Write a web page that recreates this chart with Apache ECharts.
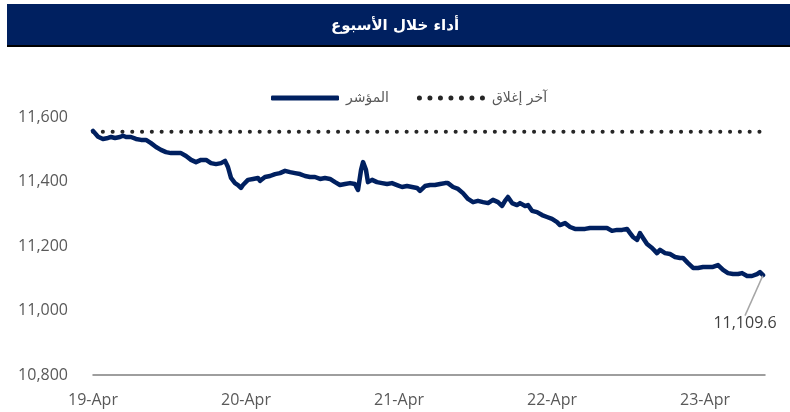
<!DOCTYPE html>
<html>
<head>
<meta charset="utf-8">
<script src="https://cdn.jsdelivr.net/npm/echarts@6/dist/echarts.min.js"></script>
<style>
html,body{margin:0;padding:0;background:#fff;}
#chart{width:790px;height:412px;}
</style>
</head>
<body>
<div id="chart"></div>
<script>
// ---- data ----
const titleText = 'أداء خلال الأسبوع';
const seriesNames = ['المؤشر', 'آخر إغلاق'];
const dayLabels = ['19-Apr', '20-Apr', '21-Apr', '22-Apr', '23-Apr'];
const yTicks = [10800, 11000, 11200, 11400, 11600];
// time in trading days since 19-Apr open
const times = [
  0, 0.033, 0.065, 0.098, 0.118, 0.144, 0.176, 0.196, 0.216, 0.248,
  0.281, 0.314, 0.346, 0.379, 0.412, 0.444, 0.477, 0.510, 0.542, 0.575,
  0.608, 0.641, 0.673, 0.706, 0.739, 0.771, 0.804, 0.837, 0.863, 0.882,
  0.902, 0.928, 0.948, 0.967, 0.980, 1.013, 1.046, 1.078, 1.092, 1.124,
  1.157, 1.190, 1.222, 1.255, 1.288, 1.320, 1.353, 1.386, 1.418, 1.451,
  1.484, 1.516, 1.549, 1.582, 1.614, 1.647, 1.680, 1.712, 1.732, 1.752,
  1.765, 1.784, 1.797, 1.824, 1.856, 1.889, 1.922, 1.954, 1.987, 2.020,
  2.052, 2.085, 2.118, 2.137, 2.170, 2.203, 2.235, 2.268, 2.301, 2.320,
  2.353, 2.386, 2.418, 2.451, 2.484, 2.516, 2.549, 2.582, 2.614, 2.647,
  2.673, 2.693, 2.712, 2.739, 2.771, 2.791, 2.824, 2.843, 2.869, 2.902,
  2.935, 2.967, 3.000, 3.033, 3.052, 3.085, 3.118, 3.150, 3.183, 3.216,
  3.248, 3.281, 3.327, 3.359, 3.392, 3.425, 3.458, 3.490, 3.510, 3.529,
  3.556, 3.575, 3.595, 3.621, 3.654, 3.686, 3.706, 3.739, 3.771, 3.804,
  3.837, 3.856, 3.889, 3.922, 3.954, 3.987, 4.020, 4.052, 4.085, 4.118,
  4.150, 4.183, 4.216, 4.242, 4.275, 4.307, 4.340, 4.359, 4.379
];
const indexValues = [
  11557, 11539, 11532, 11535, 11538, 11535, 11538, 11542, 11538, 11538,
  11532, 11529, 11529, 11519, 11507, 11498, 11491, 11488, 11488, 11488,
  11479, 11467, 11460, 11467, 11467, 11457, 11454, 11457, 11464, 11445,
  11411, 11395, 11389, 11380, 11389, 11405, 11408, 11411, 11402, 11414,
  11417, 11423, 11426, 11433, 11429, 11426, 11423, 11417, 11414, 11414,
  11408, 11411, 11408, 11398, 11389, 11392, 11395, 11392, 11374, 11436,
  11460, 11436, 11398, 11405, 11398, 11395, 11392, 11395, 11389, 11383,
  11386, 11383, 11380, 11371, 11386, 11389, 11389, 11392, 11395, 11395,
  11383, 11377, 11364, 11346, 11336, 11340, 11336, 11333, 11343, 11336,
  11324, 11340, 11352, 11333, 11327, 11333, 11324, 11327, 11309, 11305,
  11296, 11290, 11284, 11274, 11265, 11271, 11259, 11253, 11253, 11253,
  11256, 11256, 11256, 11256, 11247, 11250, 11250, 11253, 11240, 11228,
  11219, 11240, 11225, 11206, 11194, 11178, 11188, 11178, 11175, 11166,
  11163, 11163, 11147, 11132, 11132, 11135, 11135, 11135, 11141, 11126,
  11116, 11113, 11113, 11116, 11107, 11107, 11113, 11119, 11109.6
];
const previousClose = 11554;

// ---- build ----
const lastIdx = times.length - 1;
const lineData = times.map((t, i) => {
  if (i === lastIdx) {
    return {
      value: [t, indexValues[i]],
      label: {
        show: true,
        position: 'bottom',
        distance: 6,
        padding: [8, 0, 0, 0],
        formatter: p => p.value[1].toLocaleString('en-US', {minimumFractionDigits: 1, maximumFractionDigits: 1}),
        color: '#404040',
        fontSize: 16,
        fontFamily: 'Open Sans'
      },
      labelLine: {show: true, lineStyle: {color: '#a6a6a6', width: 1.5}}
    };
  }
  return [t, indexValues[i]];
});
const closeData = [[times[0], previousClose], [times[lastIdx], previousClose]];

// legend icons (7 dots / thick bar)
let dotsPath = 'path://';
for (let k = 0; k < 7; k++) {
  const cx = 2.5 + 10.5 * k;
  dotsPath += 'M' + (cx + 2.5) + ',2.5A2.5,2.5,0,1,1,' + (cx - 2.5) + ',2.5A2.5,2.5,0,1,1,' + (cx + 2.5) + ',2.5Z';
}

const chart = echarts.init(document.getElementById('chart'), null, {renderer: 'canvas'});
chart.setOption({
  backgroundColor: '#ffffff',
  animation: false,
  graphic: [{
    type: 'rect',
    left: 7, top: 4,
    shape: {width: 783, height: 41},
    style: {fill: '#002060', shadowColor: '#000000', shadowOffsetY: 2, shadowBlur: 0},
    z: 0
  }],
  title: {
    text: titleText,
    left: 'center',
    top: 14,
    textStyle: {color: '#ffffff', fontSize: 15, fontWeight: 'bold', fontFamily: 'DejaVu Sans'}
  },
  legend: {
    data: [
      {name: seriesNames[0], icon: 'roundRect'},
      {name: seriesNames[1], icon: dotsPath}
    ],
    left: 266,
    top: 86,
    itemWidth: 68,
    itemHeight: 5,
    itemGap: 28,
    textStyle: {color: '#595959', fontSize: 14, fontFamily: 'DejaVu Sans', padding: [0, 0, 0, 2]}
  },
  grid: {left: 93, right: 25, top: 117, bottom: 37, containLabel: false},
  xAxis: {
    type: 'value',
    min: 0,
    max: 4.392,
    interval: 1,
    axisLine: {show: true, lineStyle: {color: '#7f7f7f', width: 1.5}},
    axisTick: {show: false},
    splitLine: {show: false},
    axisLabel: {
      showMaxLabel: false,
      margin: 17,
      color: '#595959',
      fontSize: 16,
      fontFamily: 'Open Sans',
      formatter: v => dayLabels[Math.round(v)] || ''
    }
  },
  yAxis: {
    type: 'value',
    min: yTicks[0],
    max: yTicks[yTicks.length - 1],
    interval: yTicks[1] - yTicks[0],
    axisLine: {show: false},
    axisTick: {show: false},
    splitLine: {show: false},
    axisLabel: {
      margin: 25,
      color: '#595959',
      fontSize: 16,
      fontFamily: 'Open Sans',
      formatter: v => v.toLocaleString('en-US')
    }
  },
  series: [
    {
      name: seriesNames[0],
      type: 'line',
      data: lineData,
      symbol: 'circle',
      symbolSize: 1,
      showSymbol: true,
      showAllSymbol: true,
      lineStyle: {color: '#002060', width: 4.5, join: 'round', cap: 'round'},
      itemStyle: {color: '#002060'},
      labelLayout: {dx: -18, dy: 26},
      z: 3
    },
    {
      name: seriesNames[1],
      type: 'line',
      data: closeData,
      symbol: 'none',
      lineStyle: {color: '#262626', width: 4, type: [0.1, 9.7], cap: 'round'},
      itemStyle: {color: '#262626'},
      z: 2
    }
  ]
});
</script>
</body>
</html>
